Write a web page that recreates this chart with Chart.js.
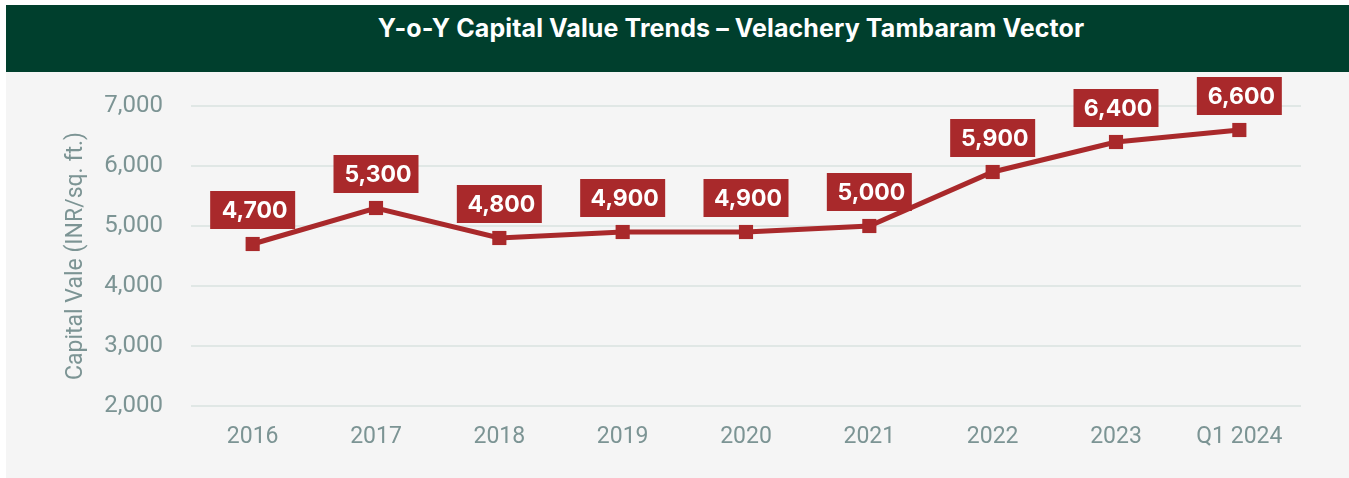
<!DOCTYPE html>
<html>
<head>
<meta charset="utf-8">
<script src="https://cdn.jsdelivr.net/npm/chart.js@4/dist/chart.umd.min.js"></script>
<style>
  html, body { margin: 0; padding: 0; background: #ffffff; width: 1349px; height: 478px; overflow: hidden; }
  #panel { position: absolute; left: 6px; top: 5px; width: 1343px; height: 473px; background: #f5f5f5; }
  #header { position: absolute; left: 0; top: 0; width: 1343px; height: 67px; background: #003f2d; }
  #title { position: absolute; left: 0; top: 8px; width: 1450px; text-align: center; color: #ffffff;
           font-family: Inter, "Open Sans", sans-serif; font-weight: 700; font-size: 25px; white-space: nowrap; letter-spacing: 0.1px; }
  #wrap { position: absolute; left: 0; top: 67px; width: 1343px; height: 406px; }
</style>
</head>
<body>
<div id="panel">
  <div id="header"><div id="title">Y-o-Y Capital Value Trends – Velachery Tambaram Vector</div></div>
  <div id="wrap"><canvas id="c"></canvas></div>
</div>
<script>
const categories = ["2016", "2017", "2018", "2019", "2020", "2021", "2022", "2023", "Q1 2024"];
const capitalValues = [4700, 5300, 4800, 4900, 4900, 5000, 5900, 6400, 6600];
const yTicks = [2000, 3000, 4000, 5000, 6000, 7000];
const yAxisTitle = "Capital Vale (INR/sq. ft.)";

const RED = "#a9292b";
const TICK = "#7c9494";

const valueBoxes = {
  id: "valueBoxes",
  afterDatasetsDraw(chart) {
    const ctx = chart.ctx;
    const meta = chart.getDatasetMeta(0);
    const data = chart.data.datasets[0].data;
    ctx.save();
    meta.data.forEach((pt, i) => {
      const w = 85, h = 38, gap = 15;
      const x = pt.x - w / 2;
      const y = pt.y - gap - h;
      ctx.fillStyle = RED;
      ctx.fillRect(x, y, w, h);
      ctx.fillStyle = "#ffffff";
      ctx.font = "700 23px Inter, 'Open Sans', sans-serif";
      ctx.textAlign = "center";
      ctx.textBaseline = "middle";
      ctx.fillText(data[i].toLocaleString("en-US"), pt.x + 2, y + h / 2 + 1);
    });
    ctx.restore();
  }
};

new Chart(document.getElementById("c"), {
  type: "line",
  data: {
    labels: categories,
    datasets: [{
      data: capitalValues,
      borderColor: RED,
      backgroundColor: RED,
      borderWidth: 5,
      pointStyle: "rect",
      pointRadius: 10,
      pointBorderWidth: 0,
      pointBackgroundColor: RED,
      tension: 0,
      fill: false
    }]
  },
  options: {
    responsive: true,
    maintainAspectRatio: false,
    animation: false,
    layout: { padding: { top: 34, right: 48, left: 0, bottom: 0 } },
    plugins: { legend: { display: false }, tooltip: { enabled: false } },
    scales: {
      x: {
        offset: true,
        grid: { display: false, drawTicks: false },
        border: { display: false },
        ticks: { color: TICK, font: { family: "Roboto", size: 23 }, padding: 17, maxRotation: 0 },
        afterFit(s) { s.height = 72; }
      },
      y: {
        min: 2000, max: 7000,
        afterBuildTicks(s) { s.ticks = yTicks.map(v => ({ value: v })); },
        grid: { color: "#e0e7e5", lineWidth: 2, drawTicks: true, tickLength: 28, tickColor: "rgba(0,0,0,0)" },
        border: { display: false },
        ticks: {
          color: TICK, font: { family: "Roboto", size: 24 }, padding: 0,
          callback: v => Number(v).toLocaleString("en-US")
        },
        title: {
          display: true, text: yAxisTitle, color: TICK,
          font: { family: "Roboto", size: 23, weight: 400 },
          padding: { top: 56, bottom: 0 }
        },
        afterFit(s) { s.width = 185; }
      }
    }
  },
  plugins: [valueBoxes]
});
</script>
</body>
</html>
